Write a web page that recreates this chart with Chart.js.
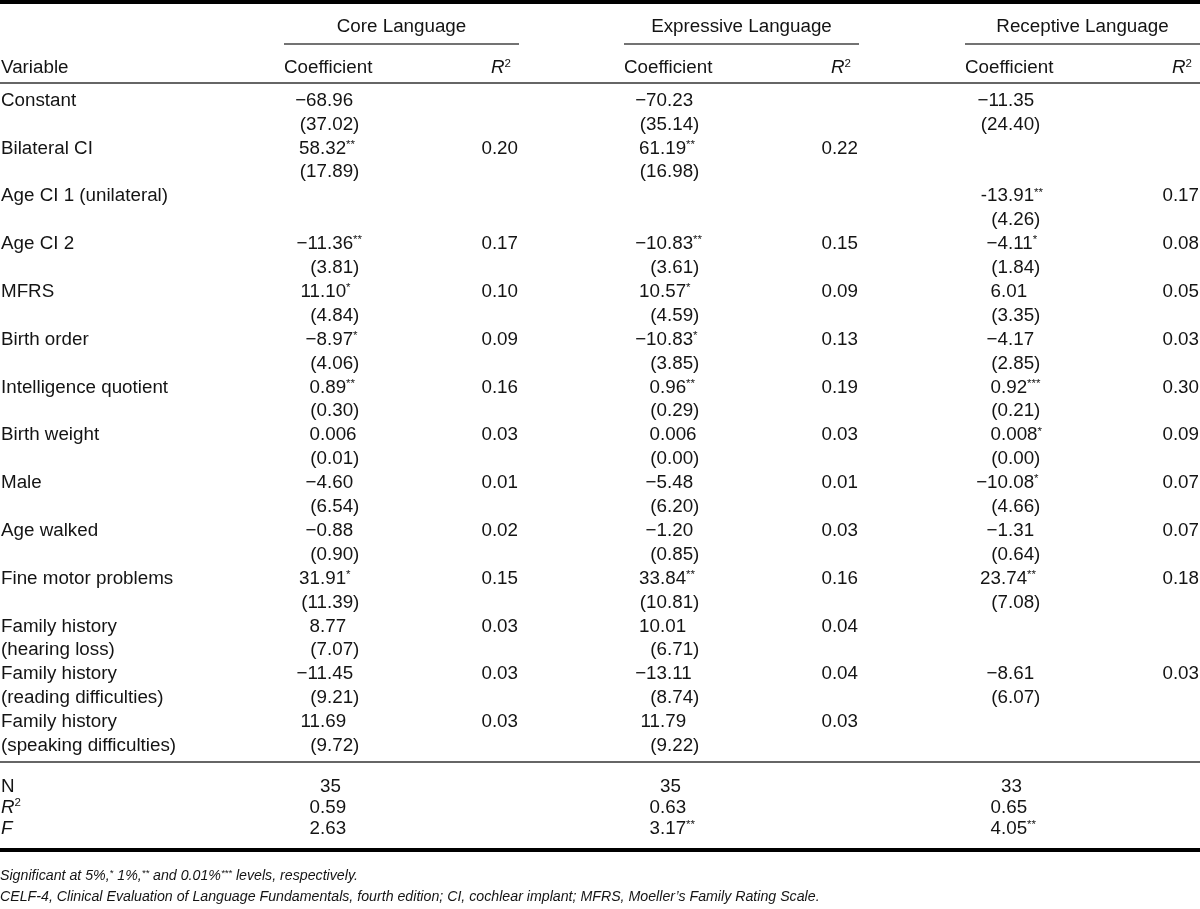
<!DOCTYPE html>
<html>
<head>
<meta charset="utf-8">
<script src="https://cdn.jsdelivr.net/npm/chart.js@4.4.1/dist/chart.umd.min.js"></script>
<style>
html,body{margin:0;padding:0;background:#fff;}
#wrap{width:1200px;height:909px;}
canvas{display:block;}
</style>
</head>
<body>
<div id="wrap"><canvas id="c" width="1200" height="909" style="width:1200px;height:909px"></canvas></div>
<script>
// ---------------- DATA ----------------
const groups = ["Core Language", "Expressive Language", "Receptive Language"];
const subHeaders = ["Coefficient", "R²"];
const firstHeader = "Variable";

const variables = [
  ["Constant"], ["Bilateral CI"], ["Age CI 1 (unilateral)"], ["Age CI 2"], ["MFRS"],
  ["Birth order"], ["Intelligence quotient"], ["Birth weight"], ["Male"], ["Age walked"],
  ["Fine motor problems"], ["Family history", "(hearing loss)"],
  ["Family history", "(reading difficulties)"], ["Family history", "(speaking difficulties)"]
];

const coreCoef = ["−68.96", "58.32**", null, "−11.36**", "11.10*", "−8.97*", "0.89**", "0.006", "−4.60", "−0.88", "31.91*", "8.77", "−11.45", "11.69"];
const coreSE   = ["(37.02)", "(17.89)", null, "(3.81)", "(4.84)", "(4.06)", "(0.30)", "(0.01)", "(6.54)", "(0.90)", "(11.39)", "(7.07)", "(9.21)", "(9.72)"];
const coreR2   = [null, "0.20", null, "0.17", "0.10", "0.09", "0.16", "0.03", "0.01", "0.02", "0.15", "0.03", "0.03", "0.03"];

const exprCoef = ["−70.23", "61.19**", null, "−10.83**", "10.57*", "−10.83*", "0.96**", "0.006", "−5.48", "−1.20", "33.84**", "10.01", "−13.11", "11.79"];
const exprSE   = ["(35.14)", "(16.98)", null, "(3.61)", "(4.59)", "(3.85)", "(0.29)", "(0.00)", "(6.20)", "(0.85)", "(10.81)", "(6.71)", "(8.74)", "(9.22)"];
const exprR2   = [null, "0.22", null, "0.15", "0.09", "0.13", "0.19", "0.03", "0.01", "0.03", "0.16", "0.04", "0.04", "0.03"];

const recCoef = ["−11.35", null, "-13.91**", "−4.11*", "6.01", "−4.17", "0.92***", "0.008*", "−10.08*", "−1.31", "23.74**", null, "−8.61", null];
const recSE   = ["(24.40)", null, "(4.26)", "(1.84)", "(3.35)", "(2.85)", "(0.21)", "(0.00)", "(4.66)", "(0.64)", "(7.08)", null, "(6.07)", null];
const recR2   = [null, null, "0.17", "0.08", "0.05", "0.03", "0.30", "0.09", "0.07", "0.07", "0.18", null, "0.03", null];

const summaryLabels = ["N", "R²", "F"];
const nObs    = ["35", "35", "33"];
const modelR2 = ["0.59", "0.63", "0.65"];
const fStat   = ["2.63", "3.17**", "4.05**"];

const footnotes = [
  "Significant at 5%,* 1%,** and 0.01%*** levels, respectively.",
  "CELF-4, Clinical Evaluation of Language Fundamentals, fourth edition; CI, cochlear implant; MFRS, Moeller’s Family Rating Scale."
];

// ---------------- LAYOUT / STYLE ----------------
const LAYOUT = {
  font: '"Liberation Sans", Arial, Helvetica, sans-serif',
  size: 18.8, supSize: 11.5, footSize: 14.2, footSup: 9.5,
  textColor: "#141414",
  firstLine: 99, lineStep: 23.9,
  varX: 1,
  groupStart: [284, 624, 965],
  groupEnd: [518, 858, 1199],
  decimalOffset: 36,
  prefixShift: 7,
  r2HeadInset: 7,
  rows: {
    top: -4.06, groupHead: -3.096, groupLine: -2.301, subHead: -1.381, headRule: -0.669,
    bodyRule: 27.74, summary: [28.70, 29.58, 30.46], bottomRule: 31.42, foot: [32.47, 33.35]
  },
  italicSymbols: ["R²", "F"]
};

const coefCols = [coreCoef, exprCoef, recCoef];
const seCols = [coreSE, exprSE, recSE];
const r2Cols = [coreR2, exprR2, recR2];

// ---------------- DATASETS (cells as points) ----------------
const datasets = [];
function column(kind, points) {
  datasets.push({ label: kind, kind: kind, data: points, pointRadius: 0, pointHoverRadius: 0, showLine: false });
}
const varPts = [];
variables.forEach((v, i) => v.forEach((t, k) => varPts.push({ x: LAYOUT.varX, y: i * 2 + k, text: t })));
summaryLabels.forEach((t, k) => varPts.push({ x: LAYOUT.varX, y: LAYOUT.rows.summary[k], text: t }));
column("var", varPts);

for (let g = 0; g < 3; g++) {
  const dx = LAYOUT.groupStart[g] + LAYOUT.decimalOffset;
  const pts = [];
  coefCols[g].forEach((t, i) => { if (t) pts.push({ x: dx, y: i * 2, text: t }); });
  seCols[g].forEach((t, i) => { if (t) pts.push({ x: dx, y: i * 2 + 1, text: t }); });
  [nObs[g], modelR2[g], fStat[g]].forEach((t, k) => pts.push({ x: dx, y: LAYOUT.rows.summary[k], text: t }));
  column("coef", pts);
  const rpts = [];
  r2Cols[g].forEach((t, i) => { if (t) rpts.push({ x: LAYOUT.groupEnd[g], y: i * 2, text: t }); });
  column("r2", rpts);
}

// ---------------- DRAW HELPERS ----------------
function setFont(ctx, size, italic) {
  ctx.font = (italic ? "italic " : "") + size + "px " + LAYOUT.font;
}
function drawSegments(ctx, text, x, yMid, size, sup, italic) {
  const base = yMid + 0.358 * size;
  const parts = text.split(/(\*+)/).filter(s => s.length);
  let cx = x;
  parts.forEach(p => {
    if (/^\*+$/.test(p)) {
      setFont(ctx, sup, italic);
      ctx.fillText(p, cx, base - size * 0.30);
    } else {
      setFont(ctx, size, italic);
      ctx.fillText(p, cx, base);
    }
    cx += ctx.measureText(p).width;
  });
  return cx - x;
}
function measureSegments(ctx, text, size, sup, italic) {
  const parts = text.split(/(\*+)/).filter(s => s.length);
  let w = 0;
  parts.forEach(p => { setFont(ctx, /^\*+$/.test(p) ? sup : size, italic); w += ctx.measureText(p).width; });
  return w;
}
function drawSymbol(ctx, text, x, yMid, align) {
  const L = LAYOUT, base = yMid + 0.358 * L.size;
  if (text === "R²") {
    setFont(ctx, L.size, true); const w1 = ctx.measureText("R").width;
    setFont(ctx, L.supSize, false); const w2 = ctx.measureText("2").width;
    const x0 = align === "right" ? x - w1 - w2 : x;
    setFont(ctx, L.size, true); ctx.fillText("R", x0, base);
    setFont(ctx, L.supSize, false); ctx.fillText("2", x0 + w1, base - L.size * 0.33);
    return;
  }
  setFont(ctx, L.size, L.italicSymbols.includes(text));
  ctx.fillText(text, x, base);
}
function drawDecimal(ctx, text, dx, yMid) {
  const L = LAYOUT;
  const m = text.match(/^([−\-(]?)([0-9]+)(.*)$/);
  if (!m) { drawSegments(ctx, text, dx, yMid, L.size, L.supSize, false); return; }
  const prefix = m[1], intPart = m[2], rest = m[3];
  setFont(ctx, L.size, false);
  const intW = ctx.measureText(intPart).width;
  let digitsStart = rest.startsWith(".") ? dx - intW : dx + 21 - intW;
  if (prefix) digitsStart += L.prefixShift;
  const preW = prefix ? ctx.measureText(prefix).width : 0;
  drawSegments(ctx, text, digitsStart - preW, yMid, L.size, L.supSize, false);
}

// ---------------- TABLE PLUGIN ----------------
const tablePlugin = {
  id: "tableText",
  afterDatasetsDraw(chart) {
    const ctx = chart.ctx, xs = chart.scales.x, ys = chart.scales.y, L = LAYOUT, R = L.rows;
    ctx.save();
    const hr = (yv, x1, x2, w, col) => {
      const py = ys.getPixelForValue(yv);
      ctx.beginPath(); ctx.lineWidth = w; ctx.strokeStyle = col;
      ctx.moveTo(xs.getPixelForValue(x1), py); ctx.lineTo(xs.getPixelForValue(x2), py); ctx.stroke();
    };
    hr(R.top, 0, 1200, 4, "#000");
    hr(R.headRule, 0, 1200, 1.6, "#333");
    hr(R.bodyRule, 0, 1200, 1.6, "#333");
    hr(R.bottomRule, 0, 1200, 4, "#000");
    ctx.fillStyle = L.textColor;
    ctx.textBaseline = "alphabetic";
    ctx.textAlign = "left";
    groups.forEach((g, i) => {
      const x1 = xs.getPixelForValue(L.groupStart[i]), x2 = xs.getPixelForValue(L.groupEnd[i] + 1);
      setFont(ctx, L.size, false);
      const w = ctx.measureText(g).width;
      ctx.fillText(g, (x1 + x2) / 2 - w / 2, ys.getPixelForValue(R.groupHead) + 0.358 * L.size);
      hr(R.groupLine, L.groupStart[i], L.groupEnd[i] + 1, 1.5, "#444");
      ctx.fillStyle = L.textColor;
      const yh = ys.getPixelForValue(R.subHead);
      setFont(ctx, L.size, false);
      ctx.fillText(subHeaders[0], x1, yh + 0.358 * L.size);
      drawSymbol(ctx, subHeaders[1], xs.getPixelForValue(L.groupEnd[i] - L.r2HeadInset), yh, "right");
    });
    drawSymbol(ctx, firstHeader, xs.getPixelForValue(L.varX), ys.getPixelForValue(R.subHead), "left");
    chart.data.datasets.forEach((ds, di) => {
      const meta = chart.getDatasetMeta(di);
      meta.data.forEach((el, j) => {
        const t = ds.data[j].text;
        if (ds.kind === "var") drawSymbol(ctx, t, el.x, el.y, "left");
        else if (ds.kind === "coef") drawDecimal(ctx, t, el.x, el.y);
        else {
          const w = measureSegments(ctx, t, L.size, L.supSize, false);
          drawSegments(ctx, t, el.x - w, el.y, L.size, L.supSize, false);
        }
      });
    });
    footnotes.forEach((f, k) => {
      drawSegments(ctx, f, xs.getPixelForValue(0), ys.getPixelForValue(R.foot[k]), L.footSize, L.footSup, true);
    });
    ctx.restore();
  }
};

const yMin = -LAYOUT.firstLine / LAYOUT.lineStep;
const yMax = yMin + 909 / LAYOUT.lineStep;

new Chart(document.getElementById("c"), {
  type: "scatter",
  data: { datasets },
  options: {
    responsive: false, animation: false, devicePixelRatio: 1,
    layout: { padding: 0 },
    events: [],
    plugins: { legend: { display: false }, tooltip: { enabled: false }, title: { display: false } },
    scales: {
      x: { type: "linear", display: false, min: 0, max: 1200 },
      y: { type: "linear", display: false, min: yMin, max: yMax, reverse: true }
    }
  },
  plugins: [tablePlugin]
});
</script>
</body>
</html>
